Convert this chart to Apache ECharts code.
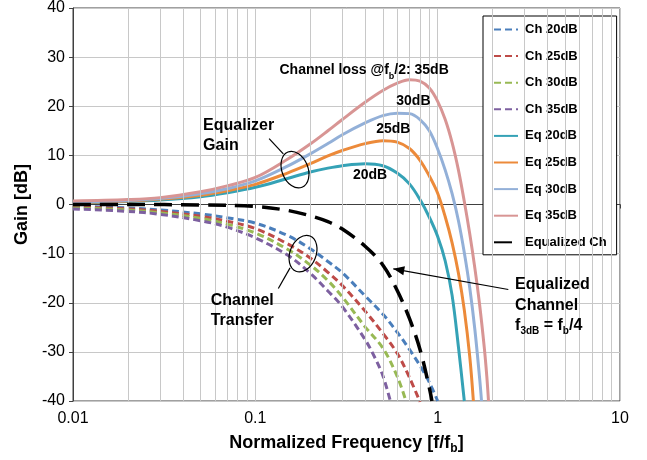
<!DOCTYPE html>
<html><head><meta charset="utf-8">
<script src="https://cdn.jsdelivr.net/npm/echarts@6/dist/echarts.min.js"></script>
<style>html,body{margin:0;padding:0;background:#fff}#c{width:647px;height:460px}</style>
</head><body><div id="c"></div>
<script>
// ---- data ----
const seriesNames = ['Ch 20dB','Ch 25dB','Ch 30dB','Ch 35dB','Eq 20dB','Eq 25dB','Eq 30dB','Eq 35dB','Equalized Ch'];
const xTickLabels = ['0.01','0.1','1','10'];
const yTicks = [-40,-30,-20,-10,0,10,20,30,40];

const fCh20 = [0.01,0.02,0.03,0.05,0.07,0.1,0.15,0.2,0.25,0.3,0.4,0.5,0.6,0.7,0.8,0.9,1.0];
const ch20  = [-0.3,-0.7,-1.1,-1.9,-2.7,-3.8,-6.3,-9.0,-11.6,-13.9,-18.6,-22.3,-26.0,-29.5,-32.8,-36.2,-40];
const fCh25 = [0.01,0.02,0.03,0.05,0.07,0.1,0.15,0.2,0.25,0.3,0.4,0.5,0.6,0.7,0.8];
const ch25  = [-0.5,-0.9,-1.4,-2.4,-3.4,-4.9,-8.0,-10.9,-13.8,-16.5,-21.7,-26.2,-30.3,-35.2,-40.2];
const fCh30 = [0.01,0.02,0.03,0.05,0.07,0.1,0.15,0.2,0.25,0.3,0.4,0.5,0.6,0.67];
const ch30  = [-0.7,-1.1,-1.7,-2.8,-4.0,-5.8,-9.1,-12.3,-15.5,-18.8,-24.9,-29.2,-35.0,-40];
const fCh35 = [0.01,0.02,0.03,0.05,0.07,0.1,0.15,0.2,0.25,0.3,0.4,0.45,0.5,0.55];
const ch35  = [-0.9,-1.4,-2.0,-3.3,-4.6,-6.8,-10.3,-14.0,-17.6,-20.8,-27.5,-31.0,-34.8,-40];

const fEq20 = [0.01,0.02,0.03,0.05,0.07,0.1,0.15,0.2,0.25,0.3,0.4,0.5,0.6,0.7,0.8,0.9,1.0,1.1,1.2,1.3,1.4];
const eq20  = [0.3,0.6,0.9,1.6,2.4,3.5,5.3,6.6,7.4,7.9,8.3,7.9,6.4,4.2,1.0,-2.6,-6.5,-11.5,-18.5,-29,-40];
const fEq25 = [0.01,0.02,0.03,0.05,0.07,0.1,0.15,0.2,0.25,0.3,0.4,0.5,0.6,0.7,0.8,0.9,1.0,1.1,1.2,1.3,1.4,1.5,1.57];
const eq25  = [0.4,0.7,1.1,1.9,2.8,4.1,6.4,8.3,9.9,11.0,12.4,13.0,12.7,11.4,9.0,5.8,2.3,-2.5,-7.8,-14.0,-21.5,-31.0,-40];
const fEq30 = [0.01,0.02,0.03,0.05,0.07,0.1,0.15,0.2,0.25,0.3,0.4,0.5,0.6,0.7,0.8,0.9,1.0,1.1,1.2,1.3,1.4,1.5,1.6,1.7,1.74];
const eq30  = [0.5,0.8,1.2,2.2,3.2,4.8,7.8,10.3,12.4,14.2,16.6,18.1,18.6,18.5,17.3,15.0,11.3,7.0,2.2,-3.3,-9.8,-17.0,-25.5,-35.5,-40];
const fEq35 = [0.01,0.02,0.03,0.05,0.07,0.1,0.15,0.2,0.25,0.3,0.4,0.5,0.6,0.7,0.8,0.9,1.0,1.1,1.2,1.3,1.4,1.5,1.6,1.7,1.8,1.86,1.9];
const eq35  = [0.7,1.0,1.4,2.6,3.8,5.5,9.2,12.3,15.0,17.3,20.8,23.2,24.7,25.4,25.1,23.7,21.0,17.3,12.6,7.0,0.6,-6.0,-13.0,-20.5,-29.0,-35.0,-40];

const fEqCh = [0.01,0.02,0.05,0.1,0.15,0.2,0.25,0.3,0.4,0.5,0.6,0.7,0.8,0.9,0.93];
const eqCh  = [0,0,-0.1,-0.4,-1.2,-2.3,-3.5,-5.0,-8.5,-12.3,-17.5,-23.2,-29.5,-37.3,-40];

const xs = [fCh20,fCh25,fCh30,fCh35,fEq20,fEq25,fEq30,fEq35,fEqCh];
const ys = [ch20,ch25,ch30,ch35,eq20,eq25,eq30,eq35,eqCh];

// annotation anchors in data space [f, dB]
const annoLoss = [0.395, 27.3];
const anno30 = [0.736, 21.0];
const anno25 = [0.571, 15.4];
const anno20 = [0.426, 5.9];
const annoEqGain = [0.0517, 14.0];
const annoEqEllipse = [0.165, 7.1];
const annoEqPtr = [[0.119, 13.4],[0.1424, 10.3]];
const annoChTrans = [0.0569, -21.6];
const annoChEllipse = [0.1826, -10.0];
const annoChPtr = [[0.1337, -17.1],[0.155, -12.9]];
const annoEqualized = [2.658, -20.5];
const annoArrow = [[2.44, -17.3],[0.571, -13.1]];

// ---- styles ----
const colors = ['#4A7EBB','#BE4B48','#98B954','#7D60A0','#35A2B6','#EC8A3A','#93B0D8','#D89594','#000000'];
const FONT = '"Liberation Sans", Arial, sans-serif';

function minorGrid() {
  const out = [];
  for (let d = 0.01; d < 10; d *= 10) {
    for (let k = 2; k <= 9; k++) out.push({xAxis: Number((d * k).toPrecision(3))});
  }
  return out;
}

const series = seriesNames.map((name, i) => {
  const isCh = i < 4, isEqCh = i === 8;
  return {
    name, type: 'line', symbol: 'none', smooth: 0.35, clip: true,
    data: xs[i].map((f, j) => [f, ys[i][j]]),
    lineStyle: {
      color: colors[i],
      width: isEqCh ? 3.5 : 3,
      type: isCh ? [7, 4] : (isEqCh ? [18, 9] : 'solid'),
      cap: 'butt'
    },
    itemStyle: {color: colors[i]},
    z: isEqCh ? 5 : 3
  };
});
series.unshift({
  name: '_grid', type: 'line', data: [], silent: true, z: 1,
  markLine: {silent: true, symbol: ['none','none'], label: {show: false}, animation: false,
    lineStyle: {color: '#c8c8c8', width: 1, type: 'solid'}, data: minorGrid()}
});

const chart = echarts.init(document.getElementById('c'), null, {renderer: 'canvas'});
chart.setOption({
  animation: false,
  backgroundColor: '#fff',
  grid: {left: 73, right: 27, top: 8, bottom: 58, show: true, borderColor: '#404040', borderWidth: 1},
  legend: {
    data: seriesNames, orient: 'vertical', left: 483, top: 16,
    padding: [7, 10, 6, 10], itemWidth: 24, itemHeight: 12, itemGap: 13.6,
    backgroundColor: '#fff', borderColor: '#000', borderWidth: 1, borderRadius: 0,
    itemStyle: {opacity: 0},
    textStyle: {fontFamily: FONT, fontSize: 13, fontWeight: 'bold', color: '#000', padding: [0, 0, 0, 2]}
  },
  xAxis: {
    type: 'log', logBase: 10, min: 0.01, max: 10,
    name: '{n|Normalized Frequency [f/f}{s|b}{n|]}', nameLocation: 'middle', nameGap: 30,
    nameTextStyle: {rich: {
      n: {fontFamily: FONT, fontSize: 18, fontWeight: 'bold', color: '#000', lineHeight: 24},
      s: {fontFamily: FONT, fontSize: 12, fontWeight: 'bold', color: '#000', lineHeight: 12, verticalAlign: 'bottom'}
    }},
    axisLine: {show: true, lineStyle: {color: '#404040'}},
    axisTick: {show: true, length: 4, lineStyle: {color: '#404040'}},
    splitLine: {show: true, lineStyle: {color: '#c8c8c8'}},
    minorTick: {show: false}, minorSplitLine: {show: false},
    axisLabel: {fontFamily: FONT, fontSize: 16, color: '#000', margin: 10,
      formatter: v => { const s = String(Number(Number(v).toPrecision(3))); return xTickLabels.includes(s) ? s : ''; }}
  },
  yAxis: {
    type: 'value', min: yTicks[0], max: yTicks[yTicks.length - 1], interval: 10,
    name: 'Gain [dB]', nameLocation: 'middle', nameGap: 38, nameRotate: 90,
    nameTextStyle: {fontFamily: FONT, fontSize: 18, fontWeight: 'bold', color: '#000'},
    axisLine: {show: true, lineStyle: {color: '#404040'}},
    axisTick: {show: true, length: 4, lineStyle: {color: '#404040'}},
    splitLine: {show: true, lineStyle: {color: '#c8c8c8'}},
    axisLabel: {fontFamily: FONT, fontSize: 16, color: '#000', margin: 8}
  },
  series
});

// ---- annotations (positioned from data coordinates) ----
const P = p => chart.convertToPixel({xAxisIndex: 0, yAxisIndex: 0}, p);
const richStyles = (size) => ({
  n: {fontFamily: FONT, fontSize: size, fontWeight: 'bold', fill: '#000', lineHeight: 20.5},
  s: {fontFamily: FONT, fontSize: Math.round(size * 0.65), fontWeight: 'bold', fill: '#000', lineHeight: 9, verticalAlign: 'bottom'}
});
function txt(pos, text, size, align) {
  const p = P(pos);
  return {type: 'text', x: p[0], y: p[1], z: 100, silent: true,
    style: {text, rich: richStyles(size), align: align || 'center', verticalAlign: 'middle',
      font: 'bold ' + size + 'px ' + FONT, fill: '#000'}};
}
function ellipse(pos, rot) {
  const p = P(pos);
  return {type: 'ellipse', x: p[0], y: p[1], rotation: rot, z: 100, silent: true,
    shape: {cx: 0, cy: 0, rx: 13, ry: 19}, style: {fill: 'none', stroke: '#000', lineWidth: 1.2}};
}
function seg(a, b) {
  const p = P(a), q = P(b);
  return {type: 'line', z: 100, silent: true, shape: {x1: p[0], y1: p[1], x2: q[0], y2: q[1]},
    style: {stroke: '#000', lineWidth: 1.2}};
}
function arrowHead(a, b) {
  const p = P(a), q = P(b);
  const dx = q[0] - p[0], dy = q[1] - p[1], L = Math.hypot(dx, dy);
  const ux = dx / L, uy = dy / L, len = 11, hw = 4.5;
  const bx = q[0] - ux * len, by = q[1] - uy * len;
  return {type: 'polygon', z: 100, silent: true,
    shape: {points: [[q[0], q[1]], [bx - uy * hw, by + ux * hw], [bx + uy * hw, by - ux * hw]]},
    style: {fill: '#000'}};
}
chart.setOption({graphic: [
  txt(annoLoss, '{n|Channel loss @f}{s|b}{n|/2: 35dB}', 14),
  txt(anno30, '{n|30dB}', 14),
  txt(anno25, '{n|25dB}', 14),
  txt(anno20, '{n|20dB}', 14),
  txt(annoEqGain, '{n|Equalizer}\n{n|Gain}', 16, 'left'),
  ellipse(annoEqEllipse, 0.38),
  seg(annoEqPtr[0], annoEqPtr[1]),
  txt(annoChTrans, '{n|Channel}\n{n|Transfer}', 16, 'left'),
  ellipse(annoChEllipse, -0.38),
  seg(annoChPtr[0], annoChPtr[1]),
  txt(annoEqualized, '{n|Equalized}\n{n|Channel}\n{n|f}{s|3dB}{n| = f}{s|b}{n|/4}', 16, 'left'),
  seg(annoArrow[0], annoArrow[1]),
  arrowHead(annoArrow[0], annoArrow[1])
]});
</script></body></html>
